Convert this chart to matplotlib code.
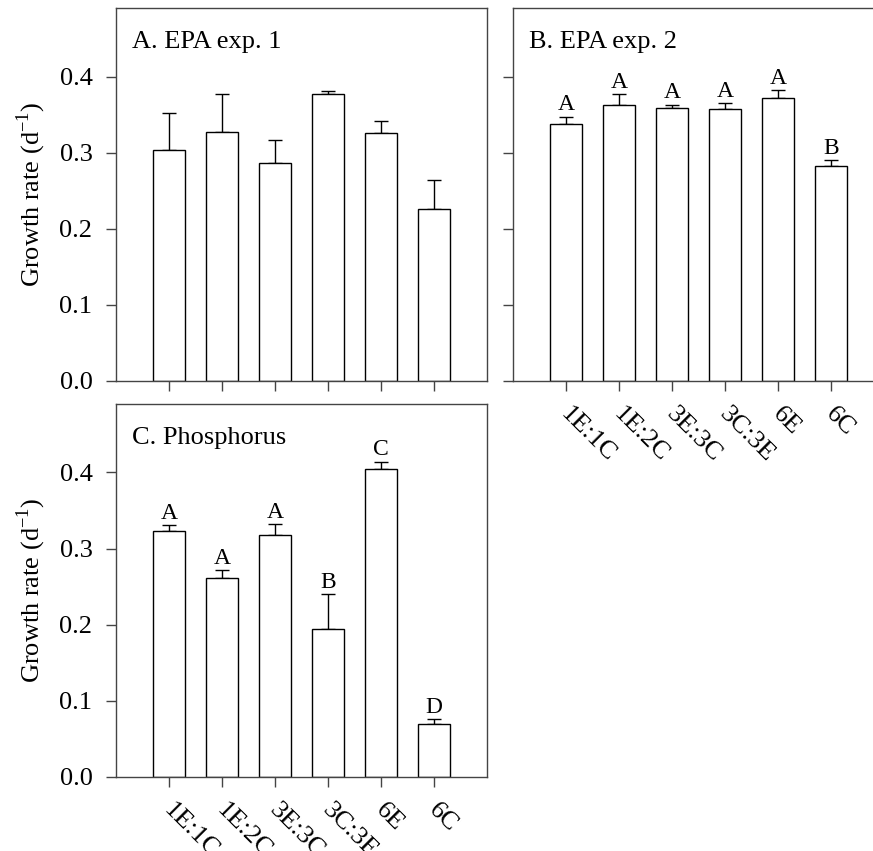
import numpy as np
import matplotlib
matplotlib.use('Agg')
import matplotlib.pyplot as plt
import matplotlib.transforms as mtransforms

plt.rcParams['font.family'] = ['Liberation Serif', 'DejaVu Serif']
plt.rcParams['mathtext.fontset'] = 'custom'
plt.rcParams['mathtext.rm'] = 'Liberation Serif'

labels = ['1E:1C', '1E:2C', '3E:3C', '3C:3E', '6E', '6C']

epa1_mean = [0.303, 0.327, 0.286, 0.377, 0.326, 0.226]
epa1_se   = [0.049, 0.050, 0.031, 0.004, 0.016, 0.038]

epa2_mean = [0.338, 0.363, 0.359, 0.357, 0.372, 0.283]
epa2_se   = [0.009, 0.014, 0.004, 0.008, 0.010, 0.007]
epa2_grp  = ['A', 'A', 'A', 'A', 'A', 'B']

phos_mean = [0.323, 0.261, 0.318, 0.194, 0.405, 0.070]
phos_se   = [0.008, 0.011, 0.014, 0.046, 0.009, 0.006]
phos_grp  = ['A', 'A', 'A', 'B', 'C', 'D']

fig = plt.figure(figsize=(8.73, 8.51), dpi=100)
W, H = 0.425, 0.4383
axA = fig.add_axes([0.1329, 0.5523, W, H])
axB = fig.add_axes([0.5880, 0.5523, W, H])
axC = fig.add_axes([0.1329, 0.0870, W, H])

x = np.arange(1, 7)
spine_col = '#444444'
shift = mtransforms.ScaledTranslation(4 / 72, -5 / 72, fig.dpi_scale_trans)


def panel(ax, mean, se, title, groups=None, ylab=True, xlab=True):
    ax.bar(x, mean, width=0.6, color='white', edgecolor='black', linewidth=1.0, zorder=2)
    ax.errorbar(x, mean, yerr=[np.zeros(len(se)), se], fmt='none', ecolor='black',
                elinewidth=1.0, capsize=5, capthick=1.0, zorder=1)
    if groups is not None:
        for xi, m, s, g in zip(x, mean, se, groups):
            ax.annotate(g, (xi, m + s), xytext=(0, 1), textcoords='offset points',
                        ha='center', va='bottom', fontsize=17)
    ax.set_xlim(0, 7)
    ax.set_ylim(0, 0.49)
    ax.set_yticks([0.0, 0.1, 0.2, 0.3, 0.4])
    ax.set_xticks(x)
    for sp in ax.spines.values():
        sp.set_color(spine_col)
        sp.set_linewidth(1.0)
    ax.tick_params(direction='out', length=7, width=1.0, color=spine_col, labelsize=19, pad=10)
    if ylab:
        ax.set_yticklabels(['0.0', '0.1', '0.2', '0.3', '0.4'])
        ax.set_ylabel('Growth rate (d$^{\\mathregular{-1}}$)', fontsize=19, labelpad=8)
    else:
        ax.set_yticklabels([])
    if xlab:
        ax.set_xticklabels(labels, rotation=-45, ha='left', va='top', rotation_mode='anchor')
        ax.tick_params(axis='x', pad=4)
        for lab in ax.get_xticklabels():
            lab.set_transform(lab.get_transform() + shift)
    else:
        ax.set_xticklabels([])
    ax.text(0.042, 0.91, title, transform=ax.transAxes, fontsize=19, va='center', ha='left')


panel(axA, epa1_mean, epa1_se, 'A. EPA exp. 1', xlab=False)
panel(axB, epa2_mean, epa2_se, 'B. EPA exp. 2', groups=epa2_grp, ylab=False)
panel(axC, phos_mean, phos_se, 'C. Phosphorus', groups=phos_grp)

fig.savefig('out.png', dpi=100)
